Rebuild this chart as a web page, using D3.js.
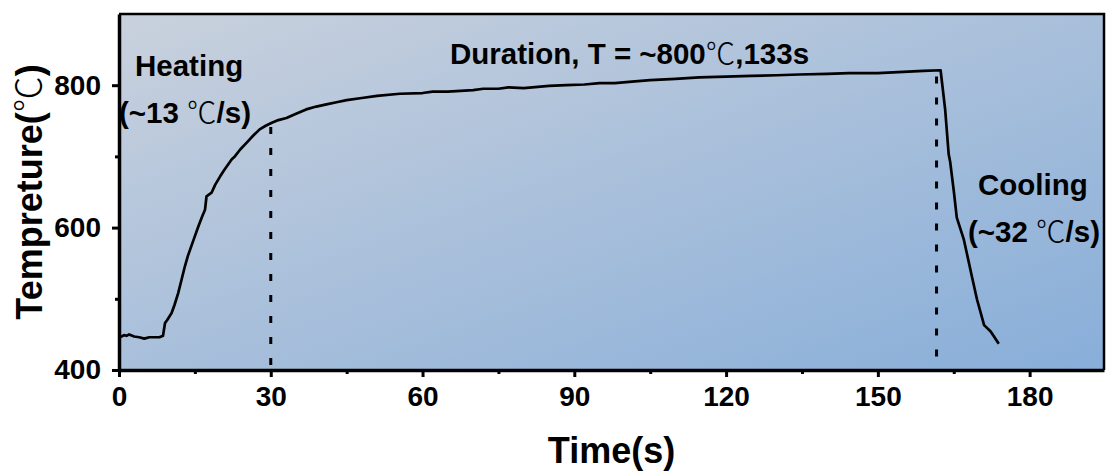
<!DOCTYPE html>
<html>
<head>
<meta charset="utf-8">
<script src="https://cdn.jsdelivr.net/npm/d3@7"></script>
<style>
  html, body { margin: 0; padding: 0; background: #fff; }
  svg { display: block; }
  text { font-family: "Liberation Sans", Arial, sans-serif; font-weight: bold; fill: #000; }
  .deg { font-family: "Noto Sans CJK SC", "DejaVu Sans", sans-serif; font-weight: 300; }
</style>
</head>
<body>
<svg id="chart" width="1107" height="473"></svg>
<script>
// ---- data ----
const times = [0, 0.5, 1, 1.5, 2, 3, 4, 5, 6, 7, 8, 8.7, 9.1, 9.5, 10.4, 11, 11.7, 12.3, 13, 13.6,
  14.3, 15, 15.7, 16.4, 17, 17.3, 18.3, 19, 20, 20.8, 21.6, 22.3, 22.9, 24, 25.2, 26.5, 27.8, 29,
  30.1, 31.5, 33.1, 35, 37, 39, 41, 43, 45, 48, 51, 55.5, 60, 62, 65, 70, 72, 75, 77, 80, 85, 88.4, 92, 95,
  98, 101.4, 105, 110, 114.7, 120, 125, 130, 134.4, 140, 144.3, 150, 153, 156, 159, 162.4, 163.3, 164,
  164.3, 165, 165.6, 167, 168.6, 169.6, 171, 172.3, 173.9];
const temps = [446, 447, 449, 448, 450, 447, 446, 444, 446, 446, 446, 448, 466, 470, 480, 492, 508, 525, 545, 560,
  574, 588, 602, 615, 625, 644, 649, 660, 672, 681, 689, 696, 700, 710, 719, 729, 738, 743,
  747, 751, 754, 760, 766, 770, 773, 776, 779, 782, 785, 788, 789, 791, 791, 793, 795, 795, 797, 796, 799, 800, 801, 803,
  803, 805, 807, 809, 811, 812, 813, 814, 815, 816, 817, 817, 818, 819, 820, 821, 766, 703,
  692, 652, 614, 583, 531, 499, 463, 454, 437];
const xTicks = [0, 30, 60, 90, 120, 150, 180];
const xMinor = [15, 45, 75, 105, 135, 165];
const yTicks = [400, 600, 800];
const yMinor = [500, 700];
const markerTimes = [30, 161.6];
const markerTemps = [747, 818];

// ---- layout ----
const L = 119, T = 14, R = 1104, B = 370;
const svg = d3.select("#chart");
const x = d3.scaleLinear().domain([0, 194.7]).range([L, R]);
const y = d3.scaleLinear().domain([400, 900]).range([B, T]);

// background gradient
const defs = svg.append("defs");
const grad = defs.append("linearGradient").attr("id", "bg")
  .attr("x1", 0).attr("y1", 0).attr("x2", 1).attr("y2", 1);
grad.append("stop").attr("offset", "0%").attr("stop-color", "#c9d1dd");
grad.append("stop").attr("offset", "100%").attr("stop-color", "#88aed9");
svg.append("rect").attr("x", L).attr("y", T).attr("width", R - L).attr("height", B - T)
  .attr("fill", "url(#bg)");

// dashed markers
svg.selectAll("line.marker").data(markerTimes).enter().append("line")
  .attr("class", "marker")
  .attr("x1", d => x(d)).attr("x2", d => x(d))
  .attr("y1", (d, i) => y(markerTemps[i]) + 4).attr("y2", B)
  .attr("stroke", "#000").attr("stroke-width", 3).attr("stroke-dasharray", "7,14");

// curve
const pts = times.map((t, i) => [t, temps[i]]);
svg.append("path").datum(pts)
  .attr("fill", "none").attr("stroke", "#000").attr("stroke-width", 2.7)
  .attr("stroke-linejoin", "round")
  .attr("d", d3.line().x(d => x(d[0])).y(d => y(d[1])));

// frame top/right
svg.append("path").attr("d", `M${L},${T}H${R}V${B}`).attr("fill", "none")
  .attr("stroke", "#000").attr("stroke-width", 2.5);

// axes
svg.append("g").attr("transform", `translate(0,${B})`)
  .call(d3.axisBottom(x).tickValues(xTicks).tickSize(7).tickPadding(9).tickSizeOuter(0));
svg.append("g").attr("transform", `translate(0,${B})`)
  .call(d3.axisBottom(x).tickValues(xMinor).tickSize(4).tickFormat("").tickSizeOuter(0))
  .call(g => g.select(".domain").remove());
svg.append("g").attr("transform", `translate(${L},0)`)
  .call(d3.axisLeft(y).tickValues(yTicks).tickSize(7).tickPadding(11).tickSizeOuter(0));
svg.append("g").attr("transform", `translate(${L},0)`)
  .call(d3.axisLeft(y).tickValues(yMinor).tickSize(4).tickFormat("").tickSizeOuter(0))
  .call(g => g.select(".domain").remove());
svg.selectAll(".tick line").attr("stroke", "#000").attr("stroke-width", 3);
svg.selectAll(".domain").attr("stroke", "#000").attr("stroke-width", 3.5);
svg.selectAll(".tick text").attr("font-size", 28).attr("font-family", "Liberation Sans, Arial, sans-serif")
  .attr("font-weight", "bold").attr("fill", "#000");

// axis titles
svg.append("text").attr("x", (L + R) / 2).attr("y", 463).attr("text-anchor", "middle")
  .attr("font-size", 36).text("Time(s)");
const yl = svg.append("text").attr("transform", "translate(42,192) rotate(-90)")
  .attr("text-anchor", "middle").attr("font-size", 36);
yl.append("tspan").text("Tempreture(");
yl.append("tspan").attr("class", "deg").text("℃");
yl.append("tspan").text(")");

// annotations
function ann(px, py, parts) {
  const t = svg.append("text").attr("x", px).attr("y", py).attr("font-size", 29.5).attr("fill", "#111");
  parts.forEach(p => t.append("tspan").attr("class", p[1] ? "deg" : null).text(p[0]));
}
ann(135, 76, [["Heating"]]);
ann(119, 123, [["(~13 "], ["℃", 1], ["/s)"]]);
ann(450, 64, [["Duration, T = ~800"], ["℃", 1], [",133s"]]);
ann(978, 195, [["Cooling"]]);
ann(968, 242, [["(~32 "], ["℃", 1], ["/s)"]]);
</script>
</body>
</html>
